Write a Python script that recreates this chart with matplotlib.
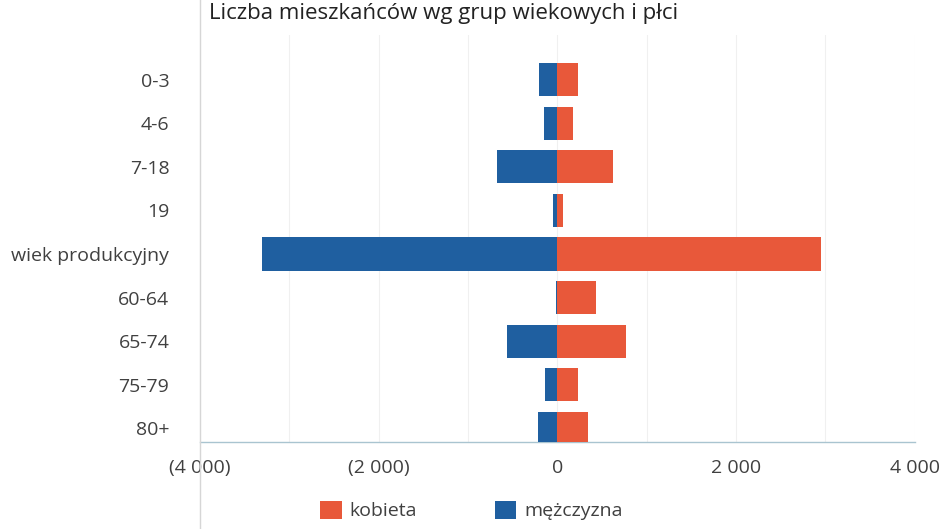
import matplotlib
matplotlib.use("Agg")
import matplotlib.pyplot as plt
from matplotlib.lines import Line2D
from matplotlib.ticker import FuncFormatter, MultipleLocator

plt.rcParams['font.family'] = ['Open Sans', 'DejaVu Sans']

# dane
grupy = ['0-3', '4-6', '7-18', '19', 'wiek produkcyjny', '60-64', '65-74', '75-79', '80+']
kobieta = [235, 170, 625, 65, 2950, 435, 770, 235, 345]
mezczyzna = [-200, -145, -670, -45, -3300, -10, -560, -135, -212]

kolor_k = '#E8583A'
kolor_m = '#1F5FA0'
kolor_tekst = '#404040'


def format_tys(x, pos):
    s = f"{abs(int(round(x))):,}".replace(',', ' ')
    return f"({s})" if x < 0 else s


fig = plt.figure(figsize=(9.43, 5.29), dpi=100)
ax = fig.add_axes([0.212, 0.164, 0.758, 0.77])

y = list(range(len(grupy)))
ax.barh(y, mezczyzna, height=0.76, color=kolor_m, label='mężczyzna', zorder=3)
ax.barh(y, kobieta, height=0.76, color=kolor_k, label='kobieta', zorder=3)

ax.set_xlim(-4000, 4000)
ax.set_ylim(8.32, -1.03)
ax.set_yticks(y)
ax.set_yticklabels(grupy)
ax.xaxis.set_major_locator(MultipleLocator(2000))
ax.xaxis.set_minor_locator(MultipleLocator(1000))
ax.xaxis.set_major_formatter(FuncFormatter(format_tys))
ax.tick_params(axis='both', length=0, labelsize=14, colors=kolor_tekst)
ax.tick_params(axis='x', which='minor', length=0)
ax.tick_params(axis='x', pad=12)
ax.tick_params(axis='y', pad=22)

ax.grid(axis='x', which='both', color='#f0f0f0', linewidth=0.8, zorder=0)
for s in ['top', 'right', 'left']:
    ax.spines[s].set_visible(False)
ax.spines['bottom'].set_color('#a9c4d0')
ax.spines['bottom'].set_linewidth(1.0)

# pionowa linia przy lewej krawędzi obszaru wykresu
fig.add_artist(Line2D([0.212, 0.212], [0, 1], transform=fig.transFigure,
                      color='#d6d6d6', linewidth=1.0))

fig.text(0.47, 0.975, 'Liczba mieszkańców wg grup wiekowych i płci',
         ha='center', va='center', fontsize=16, color='#222222')

uchwyty, etykiety = ax.get_legend_handles_labels()
fig.legend(uchwyty[::-1], etykiety[::-1], loc='center', bbox_to_anchor=(0.5, 0.035),
           ncol=2, frameon=False, fontsize=14, handlelength=1.1, handleheight=1.1,
           columnspacing=4, handletextpad=0.4, labelcolor=kolor_tekst)

fig.savefig('out.png', dpi=100, facecolor='white')
